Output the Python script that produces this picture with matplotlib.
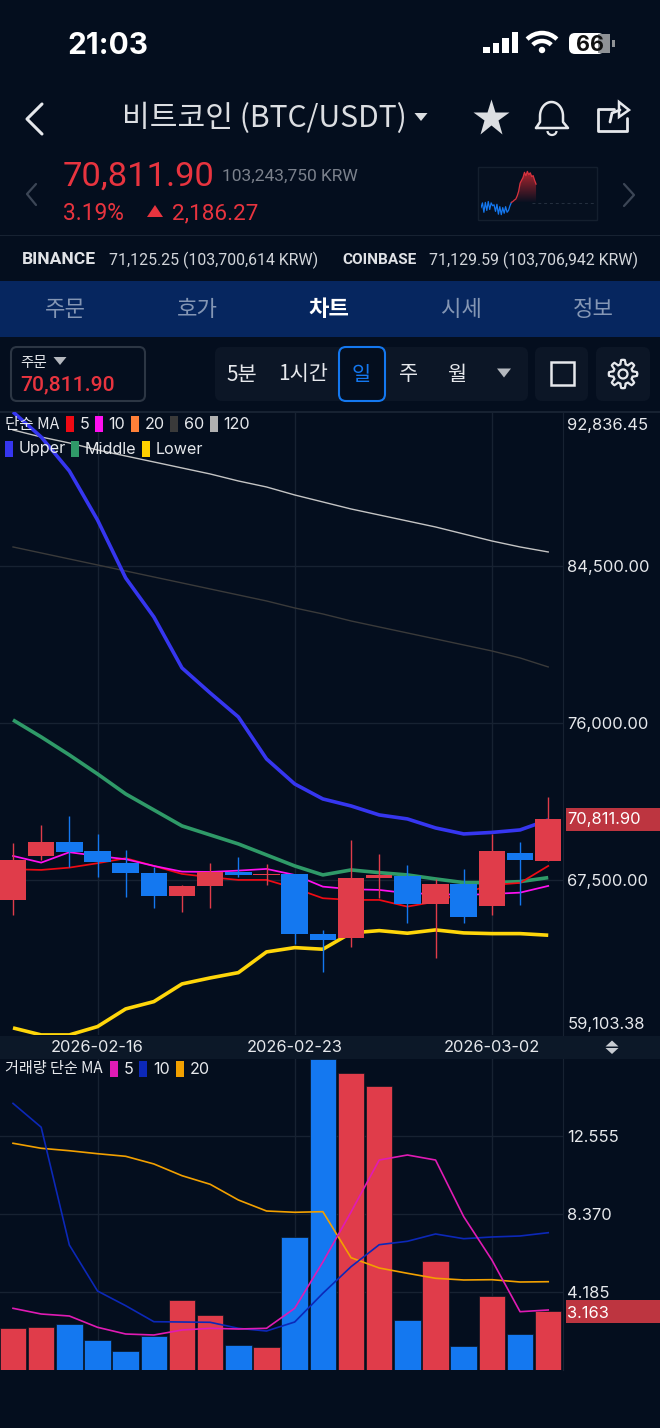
# BTC daily chart screen from the exchange app
import matplotlib
matplotlib.use('Agg')
import matplotlib.pyplot as plt
from matplotlib.patches import FancyBboxPatch, Rectangle, Polygon, Circle, Arc
import numpy as np

KR = ['Noto Sans CJK KR', 'DejaVu Sans']
NUM = ['Inter', 'DejaVu Sans']
RB = ['Roboto', 'DejaVu Sans']

# candles
opens = [66417, 68816, 69557, 69054, 68437, 67879, 66650, 67191, 67949, 67771,
         67809, 64576, 64376, 67625, 67733, 66184, 67300, 66076, 68978, 68529]
closes = [68583, 69557, 69016, 68475, 67895, 66650, 67175, 67949, 67771, 67809,
          64593, 64268, 67608, 67754, 66201, 67300, 65513, 69054, 68599, 70811.9]
highs = [69487, 70478, 70965, 69974, 69124, 68188, 67213, 68404, 68729, 68350,
         67809, 64793, 69666, 68891, 68296, 67538, 68096, 69974, 69541, 71977]
lows = [65621, 68583, 68220, 67679, 66563, 65984, 65768, 65984, 67679, 67246,
        64019, 62503, 63889, 66525, 65156, 63277, 65156, 65621, 66130, 68529]

# moving averages and bands
ma5 = [68079, 68041, 68166, 68404, 68675, 68258, 67825, 67646, 67500, 67500,
       67051, 66509, 66417, 66417, 66054, 66325, 66796, 67229, 67338, 68258]
ma10 = [68799, 68437, 69000, 68799, 68621, 68258, 67949, 67933, 68004, 68096,
        67771, 67137, 66996, 66959, 66780, 66742, 66688, 66742, 66812, 67175]
ma60 = [85529, 85204, 84879, 84554, 84229, 83904, 83580, 83255, 82930, 82605,
        82226, 81901, 81522, 81197, 80873, 80548, 80223, 79898, 79519, 79032]
ma120 = [91863, 91484, 91159, 90780, 90455, 90131, 89806, 89481, 89102, 88777,
         88344, 87965, 87586, 87261, 86936, 86611, 86232, 85853, 85529, 85258]
upper = [92838, 91484, 89643, 86990, 83850, 81739, 78978, 77624, 76325, 74051,
         72697, 71885, 71506, 71019, 70803, 70315, 69990, 70072, 70207, 70748]
middle = [76162, 75242, 74268, 73239, 72156, 71290, 70424, 69936, 69449, 68854,
          68258, 67771, 68041, 67895, 67771, 67554, 67354, 67354, 67408, 67625]
lower = [59487, 59108, 59108, 59558, 60516, 60911, 61869, 62194, 62481, 63602,
         63835, 63748, 64631, 64755, 64614, 64793, 64631, 64593, 64593, 64506]

# volume
volume = [2.285, 2.339, 2.484, 1.626, 1.035, 1.856, 3.772, 2.967, 1.357, 1.266,
          7.152, 16.70, 15.95, 15.25, 2.699, 5.848, 1.304, 3.970, 1.947, 3.163]
vol_ma5 = [3.326, 3.020, 2.913, 2.307, 1.947, 1.894, 2.162, 2.253, 2.216, 2.253,
           3.326, 5.810, 8.493, 11.28, 11.55, 11.28, 8.241, 5.918, 3.144, 3.235]
vol_ma10 = [14.32, 13.04, 6.722, 4.254, 3.466, 2.607, 2.591, 2.575, 2.253, 2.108,
            2.591, 4.131, 5.558, 6.738, 6.921, 7.313, 7.060, 7.152, 7.205, 7.382]
vol_ma20 = [12.18, 11.91, 11.78, 11.62, 11.48, 11.07, 10.44, 9.979, 9.137, 8.546,
            8.477, 8.509, 6.041, 5.488, 5.204, 4.936, 4.845, 4.861, 4.737, 4.753]

price_ticks = [84500, 76000, 67500]
vol_ticks = [4.185, 8.370, 12.555]
date_idx = [3, 10, 17]
date_labels = ['2026-02-16', '2026-02-23', '2026-03-02']

# mini chart top right
spark_blue = [0.20, 0.30, 0.10, 0.31, 0.14, 0.33, 0.16, 0.30, 0.24, 0.26, 0.12, 0.27, 0.06,
              0.22, 0.05, 0.20, 0.08, 0.22, 0.10, 0.14, 0.24, 0.31]
spark_red = [0.31, 0.33, 0.36, 0.38, 0.45, 0.55, 0.72, 0.78, 0.84, 0.95, 0.88, 0.97, 0.90,
             0.94, 0.86, 0.88, 0.78, 0.70]

BG = '#040e1e'
GRID = '#172232'
RED = '#e03c4a'
BLUE = '#1478f0'
W, H = 660, 1428

fig = plt.figure(figsize=(W / 100, H / 100), dpi=100, facecolor=BG)

# whole screen in pixels, for the app chrome
ui = fig.add_axes([0, 0, 1, 1], zorder=0)
ui.set_xlim(0, W)
ui.set_ylim(H, 0)
ui.axis('off')


def tx(x, y, s, size, color='#e6e8ec', ha='left', weight='normal', family=KR, z=5):
    ui.text(x, y + 1.5, s, fontsize=size, color=color, ha=ha, va='center',
            fontweight=weight, family=family, zorder=z)


def box(x0, y0, x1, y1, fc, ec='none', lw=1, r=6, z=1):
    ui.add_patch(FancyBboxPatch((x0 + r, y0 + r), x1 - x0 - 2 * r, y1 - y0 - 2 * r,
                                boxstyle='round,pad=%d,rounding_size=%d' % (r, r),
                                fc=fc, ec=ec, lw=lw, zorder=z))


def tri(x, y, w, h, color, up=False):
    s = -1 if up else 1
    ui.add_patch(Polygon([(x - w / 2, y - s * h / 2), (x + w / 2, y - s * h / 2), (x, y + s * h / 2)],
                         fc=color, ec='none', zorder=5))


def px_line(xs, ys, color='#e6e8ec', lw=1.5):
    ui.plot(xs, ys, color=color, lw=lw, solid_capstyle='round', solid_joinstyle='round', zorder=5)


# status bar
tx(67, 44, '21:03', 21.5, '#ffffff', weight='bold', family=NUM)
for i, bh in enumerate([6, 10, 15, 21]):
    ui.add_patch(Rectangle((483 + i * 9.5, 53 - bh), 6.5, bh, fc='white', ec='none', zorder=5))
for r0 in [21, 13]:
    ui.add_patch(Arc((542, 54), r0 * 2, r0 * 2, theta1=225, theta2=315,
                     color='white', lw=3.2, zorder=5))
ui.add_patch(Circle((542, 50), 3.2, fc='white', ec='none', zorder=5))
box(569, 33, 604, 54, '#ffffff', r=6, z=4)
ui.add_patch(Rectangle((598, 34), 12, 19, fc='#8f9296', ec='none', zorder=4))
ui.add_patch(Rectangle((612, 40), 2.5, 7, fc='#8f9296', ec='none', zorder=4))
tx(590, 43.5, '66', 15.5, '#111111', ha='center', weight='bold', family=NUM)

# title row
px_line([42, 27, 42], [104, 119, 134], lw=2.2)
tx(122, 117, '비트코인 (BTC/USDT)', 21.7, '#dcdee2', weight='medium')
tri(421, 117, 13, 8, '#dcdee2')
ui.plot([491], [118], marker='*', ms=28, color='#dcdee2', mec='none', zorder=5)
# bell
t = np.linspace(np.pi, 0, 30)
bx = np.r_[536, 540, 540 + 11.5 + 11.5 * np.cos(t), 563, 568, 536]
by = np.r_[128, 122, 116 + 14 * np.sin(t) * -1, 122, 128, 128]
px_line(bx, by, lw=1.8)
ui.add_patch(Arc((552, 131), 9, 8, theta1=0, theta2=180, color='#e6e8ec', lw=1.6, zorder=5))
# share
px_line([614, 598, 598, 627, 627], [109, 109, 131, 131, 118], lw=2)
px_line([610, 612, 620], [122, 113, 110], lw=2)
ui.add_patch(Polygon([(619, 102), (629, 110), (619, 117)], fc='none', ec='#e6e8ec', lw=1.8, zorder=5))

# price block
px_line([36, 27, 36], [184, 194, 205], color='#3c4656', lw=1.6)
px_line([624, 634, 624], [184, 195, 206], color='#3c4656', lw=1.6)
tx(63, 175.5, '70,811.90', 24.8, '#e8343f', family=RB)
tx(222, 175, '103,243,750 KRW', 12.5, '#7b818c', family=RB)
tx(63, 212, '3.19%', 16.4, '#e8343f', family=RB)
tri(155, 211, 16, 12, '#e8343f', up=True)
tx(172, 212, '2,186.27', 16.2, '#e8343f', family=RB)

ui.add_patch(Rectangle((478, 167), 119, 53, fc='#06101f', ec='#141f2e', lw=1, zorder=2))
spark = fig.add_axes([481 / W, 1 - 217 / H, 113 / W, 47 / H], zorder=1.5)
spark.patch.set_alpha(0)
spark.axis('off')
spark.set_xlim(0, 78)
spark.set_ylim(0, 1)
blue_x = np.arange(len(spark_blue))
red_x = np.arange(len(spark_red)) + len(spark_blue) - 1
spark.plot(blue_x, spark_blue, color=BLUE, lw=0.9)
fill_red = spark.fill_between(red_x, 0.30, spark_red, color='none', lw=0)
grad = spark.imshow(np.linspace(1, 0.15, 64).reshape(-1, 1), extent=[0, 78, 0.30, 1.0], aspect='auto',
                    origin='upper', cmap=matplotlib.colors.LinearSegmentedColormap.from_list('r', ['#061020', '#b3262f']))
grad.set_clip_path(fill_red.get_paths()[0], transform=spark.transData)
spark.plot(red_x, spark_red, color='#d9333f', lw=0.9)
spark.axhline(0.30, xmin=0.45, color='#253040', lw=0.7, ls=(0, (3, 3)))
spark.set_xlim(0, 78)
spark.set_ylim(0, 1)

ui.add_patch(Rectangle((0, 234.5), W, 1.2, fc='#172232', ec='none', zorder=2))

# exchange row
tx(22, 258.5, 'BINANCE', 12.6, '#e0e2e6', weight='bold', family=RB)
tx(109, 258.5, '71,125.25 (103,700,614 KRW)', 11.45, '#d2d5da', family=RB)
tx(342, 259, 'COINBASE', 11.1, '#e0e2e6', weight='bold', family=RB)
tx(429, 258.5, '71,129.59 (103,706,942 KRW)', 11.45, '#d2d5da', family=RB)

# tabs
ui.add_patch(Rectangle((0, 281), W, 56, fc='#06265f', ec='none', zorder=1))
for px, s in zip([65, 197, 461, 593], ['주문', '호가', '시세', '정보']):
    tx(px, 308, s, 16, '#8496b4', ha='center')
tx(329, 308, '차트', 16, '#ffffff', ha='center', weight='bold')

# toolbar
box(11, 347, 145, 401, '#040e1e', ec='#2c3644', lw=1.5, r=6)
tx(20, 361, '주문', 10.5, '#e6e8ec')
tri(60, 361, 13, 8, '#b4b8be')
tx(20, 383, '70,811.90', 15.2, '#e8343f', weight='medium', family=RB)
box(215, 347, 528, 401, '#0c1626', r=7)
box(535, 347, 588, 401, '#0c1626', r=7)
box(596, 347, 650, 401, '#0c1626', r=7)
box(339, 347, 385, 401, '#040e1e', ec='#1478f0', lw=1.5, r=7, z=2)
tx(242, 373, '5분', 15, '#e6e8ec', ha='center')
tx(303, 373, '1시간', 15, '#e6e8ec', ha='center')
tx(361, 373, '일', 15, '#1478f0', ha='center', weight='medium')
tx(409, 373, '주', 15, '#e6e8ec', ha='center')
tx(457, 373, '월', 15, '#e6e8ec', ha='center')
tri(504, 373, 14, 9, '#b4b8be')
ui.add_patch(Rectangle((551, 362), 23, 23, fc='none', ec='#e6e8ec', lw=1.8, zorder=5))
# gear
ang = np.linspace(0, 2 * np.pi, 97)
rad = 12 + 2.2 * np.tanh(4 * np.cos(8 * ang))
px_line(623 + rad * np.cos(ang), 374 + rad * np.sin(ang), lw=1.6)
ui.add_patch(Circle((623, 374), 4.5, fc='none', ec='#e6e8ec', lw=1.6, zorder=5))

# date band
ui.add_patch(Rectangle((0, 1036), W, 23, fc='#0c1828', ec='none', zorder=1))
ui.add_patch(Rectangle((0, 411), W, 1.5, fc='#172232', ec='none', zorder=1))
tri(612, 1043.5, 13, 6, '#c8ccd2', up=True)
tri(612, 1051, 13, 6, '#c8ccd2')
ui.add_patch(Rectangle((566, 808), 94, 23, fc='#bd3540', ec='none', zorder=1))
ui.add_patch(Rectangle((566, 1300), 94, 23, fc='#bd3540', ec='none', zorder=1))

# price panel, x runs over candle numbers
x = np.arange(len(closes))
STEP = 28.17
left = -13 / STEP
right = left + 563 / STEP
ax = fig.add_axes([0, 1 - 1035 / H, 563 / W, 623 / H], zorder=2)
ax.patch.set_alpha(0)
ax.set_xlim(left, right)
ax.set_ylim(59103.38, 92836.45)
for s in ax.spines.values():
    s.set_visible(False)
ax.spines['right'].set_visible(True)
ax.spines['right'].set_color(GRID)
ax.set_axisbelow(True)
ax.grid(color=GRID, lw=1)
ax.set_yticks(price_ticks)
ax.set_yticklabels([])
ax.set_xticks(date_idx)
ax.set_xticklabels([])
ax.tick_params(length=0)
trans = ax.get_yaxis_transform()
for v in price_ticks:
    ax.annotate(format(v, ',.2f'), (1, v), xycoords=trans, xytext=(3, -1), textcoords='offset points',
                color='#e6e8ec', fontsize=11.9, va='center', family=NUM, annotation_clip=False)

ax.plot(x, ma120, color='#c4c4c4', lw=1, zorder=2)
ax.plot(x, ma60, color='#3a3a3a', lw=1, zorder=2)
ax.plot(x, upper, color='#3636f0', lw=2.6, zorder=2.2, solid_capstyle='butt')
ax.plot(x, middle, color='#2f9a68', lw=2.6, zorder=2.2, solid_capstyle='butt')
ax.plot(x, lower, color='#ffd60a', lw=2.6, zorder=2.2, solid_capstyle='butt')
ax.plot(x, ma5, color='#f00a14', lw=1.25, zorder=2.4)
ax.plot(x, ma10, color='#ff10f0', lw=1.25, zorder=2.4)

colors = [RED if c >= o else BLUE for o, c in zip(opens, closes)]
ax.vlines(x, lows, highs, colors=colors, lw=1, zorder=3)
ax.bar(x, np.abs(np.array(closes) - np.array(opens)), bottom=np.minimum(opens, closes),
       width=0.94, color=colors, lw=0, zorder=3.2)

ax.annotate('92,836.45', (1, 92836.45), xycoords=trans, xytext=(3, -9.5), textcoords='offset points',
            color='#e6e8ec', fontsize=11.9, va='center', family=NUM, annotation_clip=False)
ax.annotate('59,103.38', (1, 59103.38), xycoords=trans, xytext=(3, 7.5), textcoords='offset points',
            color='#e6e8ec', fontsize=11.9, va='center', family=NUM, annotation_clip=False)
ax.annotate('70,811.90', (1, closes[-1]), xycoords=trans, xytext=(3, -0.5), textcoords='offset points',
            color='#ffffff', fontsize=11.9, va='center', family=NUM, annotation_clip=False)

# legends over the price panel
fig.text(5 / W, 1 - 424 / H, '단순 MA', fontsize=11.2, color='#e6e8ec', va='center', family=KR, zorder=6)
for sx, lx, c, s in zip([66, 95, 131, 170, 210], [80, 108, 145, 184, 223],
                        ['#f00a14', '#ff10f0', '#ff8038', '#3a3a3a', '#b0b0b0'],
                        ['5', '10', '20', '60', '120']):
    fig.patches.append(Rectangle((sx / W, 1 - 432 / H), 8 / W, 16 / H, transform=fig.transFigure, fc=c, ec='none', zorder=6))
    fig.text(lx / W, 1 - 424 / H, s, fontsize=11.6, color='#e6e8ec', va='center', family=NUM, zorder=6)
for sx, lx, c, s in zip([5, 71, 142], [19, 85, 156], ['#3636f0', '#2f9a68', '#ffd000'],
                        ['Upper', 'Middle', 'Lower']):
    fig.patches.append(Rectangle((sx / W, 1 - 457 / H), 8 / W, 16 / H, transform=fig.transFigure, fc=c, ec='none', zorder=6))
    fig.text(lx / W, 1 - 449 / H, s, fontsize=11.6, color='#e6e8ec', va='center', family=NUM, zorder=6)

for xi, s in zip(date_idx, date_labels):
    ax.annotate(s, (xi, 0), xycoords=ax.get_xaxis_transform(), xytext=(0, -9), textcoords='offset points',
                ha='center', va='center', color='#e6e8ec', fontsize=11.8, family=NUM, annotation_clip=False)

# volume panel
vax = fig.add_axes([0, 1 - 1370.3 / H, 563 / W, 311.3 / H], zorder=2)
vax.patch.set_alpha(0)
vax.set_xlim(left, right)
vax.set_ylim(0, 16.70)
for s in vax.spines.values():
    s.set_visible(False)
vax.spines['right'].set_visible(True)
vax.spines['right'].set_color(GRID)
vax.set_axisbelow(True)
vax.grid(color=GRID, lw=1)
vax.set_yticks(vol_ticks)
vax.set_yticklabels([])
vax.set_xticks(date_idx)
vax.set_xticklabels([])
vax.tick_params(length=0)
vtrans = vax.get_yaxis_transform()
for v in vol_ticks:
    vax.annotate('%.3f' % v, (1, v), xycoords=vtrans, xytext=(3, -1), textcoords='offset points',
                 color='#e6e8ec', fontsize=11.9, va='center', family=NUM, annotation_clip=False)
vax.bar(x, volume, width=0.94, color=colors, edgecolor='#0a1420', lw=0.5, zorder=2)
vax.plot(x, vol_ma20, color='#f2a000', lw=1.2, zorder=3)
vax.plot(x, vol_ma10, color='#0c28b8', lw=1.2, zorder=3)
vax.plot(x, vol_ma5, color='#e01bb4', lw=1.2, zorder=3)
vax.annotate('3.163', (1, volume[-1]), xycoords=vtrans, xytext=(3, -1.5), textcoords='offset points',
             color='#ffffff', fontsize=11.9, va='center', family=NUM, annotation_clip=False)

fig.text(5 / W, 1 - 1069 / H, '거래량 단순 MA', fontsize=10.9, color='#e6e8ec', va='center', family=KR, zorder=6)
for sx, lx, c, s in zip([110, 139, 176], [124, 153, 190], ['#e01bb4', '#0c28b8', '#f2a000'], ['5', '10', '20']):
    fig.patches.append(Rectangle((sx / W, 1 - 1077 / H), 8 / W, 16 / H, transform=fig.transFigure, fc=c, ec='none', zorder=6))
    fig.text(lx / W, 1 - 1069 / H, s, fontsize=11.6, color='#e6e8ec', va='center', family=NUM, zorder=6)

fig.savefig('out.png', dpi=100, facecolor=BG)
